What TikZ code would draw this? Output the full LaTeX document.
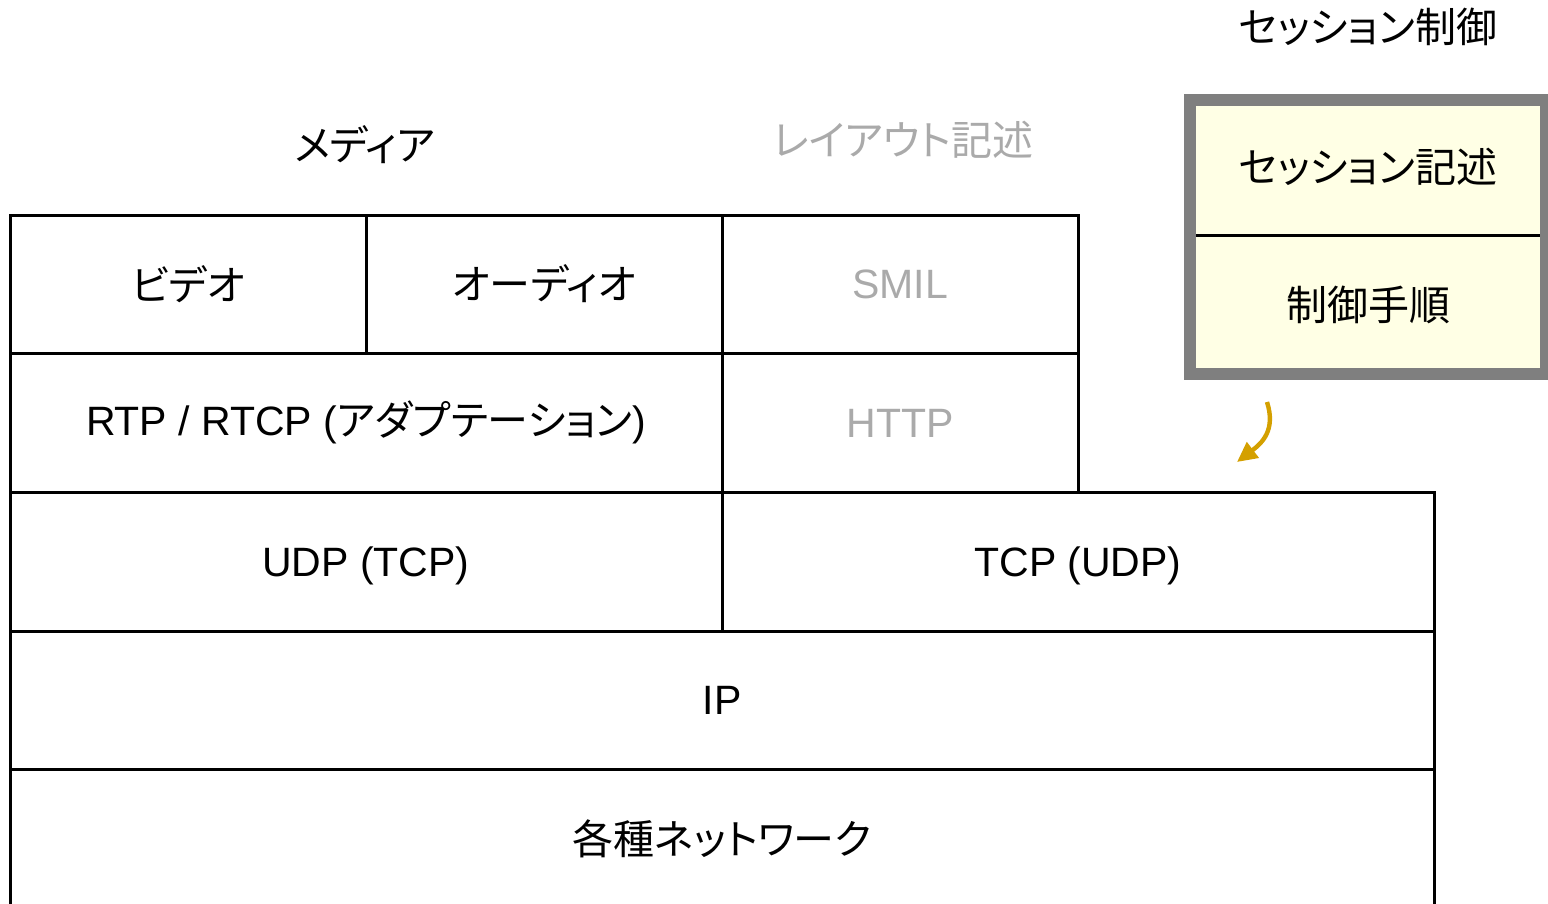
\documentclass[tikz,border=0pt]{standalone}
\usepackage{fontspec}
\setmainfont[RawFeature=+palt]{Noto Sans CJK JP}
\newfontfamily\lat{Liberation Sans}
\usetikzlibrary{arrows.meta}
\definecolor{lightgraytext}{RGB}{170,170,170}
\definecolor{sessfill}{RGB}{255,255,229}
\definecolor{sessborder}{RGB}{127,127,127}
\definecolor{gold}{RGB}{212,160,0}
\tikzset{
  cell/.style={draw=black, line width=1.5pt, inner sep=0pt, anchor=center,
    font=\fontsize{20.5pt}{24pt}\selectfont},
  latcell/.style={cell, text height=14.7pt, text depth=0pt},
  lbl/.style={inner sep=0pt, anchor=center, font=\fontsize{20.5pt}{24pt}\selectfont},
  faded/.style={text=lightgraytext},
  conn/.style={draw=gold, line width=2.2pt, -{Triangle[length=10pt,width=9.5pt]}}
}
\begin{document}
\begin{tikzpicture}[x=0.5pt,y=-0.5pt]
\useasboundingbox (0,0) rectangle (1548,904);
% stack cells
\node[cell, minimum width=178pt, minimum height=69pt] (video) at (188,284) {ビデオ};
\node[cell, minimum width=178pt, minimum height=69pt] (audio) at (544,284) {オーディオ};
\node[latcell, faded, minimum width=178pt, minimum height=69pt] (smil) at (900,284) {\lat SMIL};
\node[cell, minimum width=356pt, minimum height=69.5pt] (rtp) at (366,422.5) {{\lat RTP / RTCP (}アダプテーション{\lat )}};
\node[latcell, faded, minimum width=178pt, minimum height=69.5pt] (http) at (900,422.5) {\lat HTTP};
\node[latcell, minimum width=356pt, minimum height=69.5pt] (udp) at (366,561.5) {\lat UDP (TCP)};
\node[latcell, minimum width=356pt, minimum height=69.5pt] (tcp) at (1078,561.5) {\lat TCP (UDP)};
\node[latcell, minimum width=712pt, minimum height=69pt] (ip) at (722,700) {\lat IP};
\node[cell, minimum width=712pt, minimum height=69.5pt] (net) at (722,838.5) {各種ネットワーク};
% header labels
\node[lbl] (media) at (365,145) {メディア};
\node[lbl, faded] (layout) at (903,140) {レイアウト記述};
\node[lbl] (sessctl) at (1368,27) {セッション制御};
% session box
\node[draw=sessborder, fill=sessfill, line width=6pt, minimum width=178pt, minimum height=137pt, inner sep=0pt] (session) at (1368,237) {};
\coordinate (divl) at (1196,235);
\coordinate (divr) at (1540,235);
\draw[line width=1.5pt, black] (divl) -- (divr);
\node[lbl] (sdesc) at (1368,167) {セッション記述};
\node[lbl] (ctrl) at (1368,305) {制御手順};
% arrow
\coordinate (a1) at (1267,402);
\coordinate (a2) at (1237,462);
\draw[conn] (a1) .. controls (1276,430) and (1262,443) .. (a2);
\end{tikzpicture}
\end{document}
